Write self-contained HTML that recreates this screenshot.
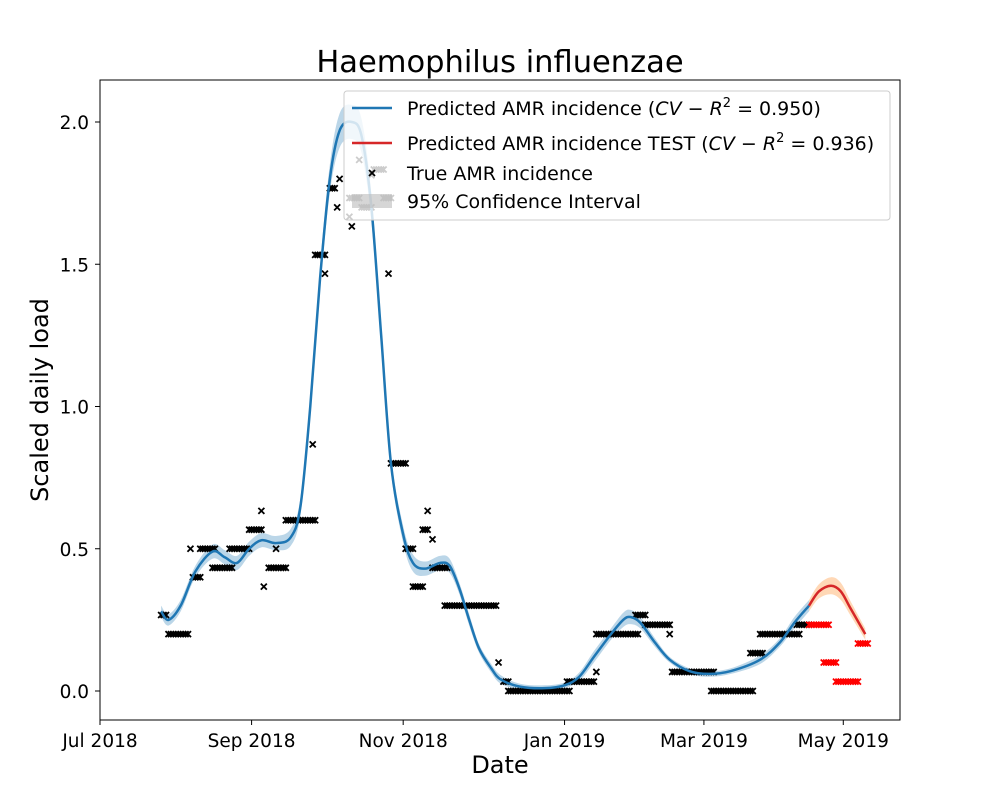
<!DOCTYPE html>
<html><head><meta charset="utf-8"><style>
body{margin:0;background:#fff}
svg text{font-family:"DejaVu Sans","Liberation Sans",sans-serif}
</style></head><body>
<svg id="chart" width="1000" height="800" xmlns="http://www.w3.org/2000/svg">
<rect width="1000" height="800" fill="#fff"/>
<text x="500" y="72" font-size="30.5" text-anchor="middle">Haemophilus influenzae</text>
<g id="plot"></g>
<rect x="100" y="80" width="800" height="640" fill="none" stroke="#000" stroke-width="1"/>
<g id="ticks"></g>
<text x="500" y="773" font-size="24" text-anchor="middle">Date</text>
<text transform="translate(48,400) rotate(-90)" font-size="24" text-anchor="middle">Scaled daily load</text>
<g>
<rect x="344" y="91" width="546" height="129" rx="3" fill="#fff" fill-opacity="0.8" stroke="#ccc"/>
<line x1="352" y1="108" x2="392" y2="108" stroke="#1f77b4" stroke-width="2.5"/>
<text x="407" y="115" font-size="19">Predicted AMR incidence (<tspan font-style="italic">CV</tspan> − <tspan font-style="italic">R</tspan><tspan font-size="13" dy="-8">2</tspan><tspan dy="8"> = 0.950)</tspan></text>
<line x1="352" y1="143" x2="392" y2="143" stroke="#d62728" stroke-width="2.5"/>
<text x="407" y="150" font-size="19">Predicted AMR incidence TEST (<tspan font-style="italic">CV</tspan> − <tspan font-style="italic">R</tspan><tspan font-size="13" dy="-8">2</tspan><tspan dy="8"> = 0.936)</tspan></text>
<path d="M369,170 l6,6 M375,170 l-6,6" stroke="#000" stroke-width="1.8"/>
<text x="407" y="180" font-size="19">True AMR incidence</text>
<rect x="352" y="194" width="40" height="14" fill="#bbb" fill-opacity="0.6"/>
<text x="407" y="208" font-size="19">95% Confidence Interval</text>
</g>
</svg>
<script>
const tickLabelsX=["Jul 2018","Sep 2018","Nov 2018","Jan 2019","Mar 2019","May 2019"];
const tickDaysX=[0,62,124,190,247,304];
const tickValuesY=[0,0.5,1.0,1.5,2.0];
const tickLabelsY=["0.0","0.5","1.0","1.5","2.0"];
// observed segments: start day, end day, value
const obsStart=[25,28,37,38,41,46,53,61,66,67,69,72,76,87,88,92,94,97,98,102,103,102,106,107,111,112,116,118,119,125,128,132,134,136,136,141,163,165,167,191,203,203,219,223,233,234,250,266,270,285];
const obsEnd=  [27,36,37,41,47,54,61,66,66,67,76,72,88,87,92,92,96,97,98,102,103,106,106,111,111,116,119,118,125,128,132,134,134,136,142,162,163,167,192,202,203,220,223,233,233,251,267,271,286,290];
const obsVal=  [0.267,0.2,0.5,0.4,0.5,0.433,0.5,0.567,0.633,0.367,0.433,0.5,0.6,0.867,1.533,1.467,1.767,1.7,1.8,1.667,1.633,1.733,1.867,1.7,1.813,1.833,1.733,1.467,0.8,0.5,0.367,0.567,0.633,0.533,0.433,0.3,0.1,0.033,0,0.033,0.067,0.2,0.267,0.233,0.2,0.067,0,0.133,0.2,0.233];
const testStart=[290,296,301,310];
const testEnd=[298,301,310,314];
const testVal=[0.233,0.1,0.033,0.167];
const predDays=[25,28,33,39,46,51,56,61,66,72,78,82,86,90,94,98,103,107,111,115,119,124,128,133,139,143,147,151,155,160,164,172,182,190,196,202,209,214,217,221,227,233,241,249,258,270,278,284,290];
const predVals=[0.28,0.25,0.30,0.42,0.49,0.47,0.45,0.50,0.53,0.52,0.54,0.65,1.0,1.45,1.80,1.97,2.0,1.95,1.7,1.25,0.8,0.55,0.45,0.43,0.45,0.44,0.36,0.25,0.15,0.08,0.04,0.015,0.01,0.02,0.05,0.12,0.20,0.25,0.26,0.24,0.17,0.11,0.07,0.06,0.07,0.11,0.17,0.24,0.30];
const ciHalf=[0.02,0.02,0.02,0.02,0.025,0.025,0.025,0.025,0.025,0.025,0.03,0.03,0.03,0.04,0.05,0.06,0.06,0.06,0.05,0.04,0.03,0.03,0.03,0.025,0.025,0.025,0.02,0.02,0.015,0.015,0.015,0.01,0.01,0.01,0.015,0.02,0.02,0.025,0.025,0.02,0.015,0.01,0.01,0.01,0.01,0.015,0.015,0.02,0.02];
const testDays=[290,294,299,303,307,313];
const testPred=[0.30,0.35,0.37,0.35,0.29,0.20];
const testCi=[0.02,0.025,0.03,0.03,0.025,0.02];

const NS="http://www.w3.org/2000/svg";
const X=d=>100+d*2.445;
const Y=v=>691-v*284.5;
const plot=document.getElementById('plot'), ticks=document.getElementById('ticks');
function mk(t,a,p){const e=document.createElementNS(NS,t);for(const k in a)e.setAttribute(k,a[k]);p.appendChild(e);return e;}
function smooth(xs,ys){let d=`M${X(xs[0])},${Y(ys[0])}`;for(let i=1;i<xs.length;i++){const x0=X(xs[i-1]),y0=Y(ys[i-1]),x1=X(xs[i]),y1=Y(ys[i]);const xp=i>1?X(xs[i-2]):x0,yp=i>1?Y(ys[i-2]):y0;const xn=i<xs.length-1?X(xs[i+1]):x1,yn=i<xs.length-1?Y(ys[i+1]):y1;d+=` C${x0+(x1-xp)/6},${y0+(y1-yp)/6} ${x1-(xn-x0)/6},${y1-(yn-y0)/6} ${x1},${y1}`;}return d;}
function band(xs,ys,h){const up=ys.map((v,i)=>v+h[i]),lo=ys.map((v,i)=>v-h[i]);const rx=xs.slice().reverse(),rl=lo.slice().reverse();return smooth(xs,up)+" L"+smooth(rx,rl).slice(1)+" Z";}
let e;
e=mk('path',{d:band(predDays,predVals,ciHalf),fill:'#1f77b4','fill-opacity':0.3},plot);


e=mk('path',{d:band(testDays,testPred,testCi),fill:'#ff7f0e','fill-opacity':0.3},plot);


function marks(st,en,va,col,name){for(let i=0;i<st.length;i++){for(let d=st[i];d<=en[i];d++){const x=X(d),y=Y(va[i]);const m=mk('path',{d:`M${x-3},${y-3} l6,6 M${x+3},${y-3} l-6,6`,stroke:col,'stroke-width':1.8},plot);

}}}
marks(obsStart,obsEnd,obsVal,'#000','true-point');
marks(testStart,testEnd,testVal,'#ff0000','test-point');
e=mk('path',{d:smooth(predDays,predVals),fill:'none',stroke:'#1f77b4','stroke-width':2.5},plot);


e=mk('path',{d:smooth(testDays,testPred),fill:'none',stroke:'#d62728','stroke-width':2.5},plot);


tickDaysX.forEach((d,i)=>{const x=X(d);mk('line',{x1:x,y1:720,x2:x,y2:725,stroke:'#000'},ticks);
const t=mk('text',{x:x,y:747,'font-size':18.5,'text-anchor':'middle'},ticks);t.textContent=tickLabelsX[i];

});
tickValuesY.forEach((v,i)=>{const y=Y(v);mk('line',{x1:95,y1:y,x2:100,y2:y,stroke:'#000'},ticks);
const t=mk('text',{x:89,y:y+7,'font-size':18.5,'text-anchor':'end'},ticks);t.textContent=tickLabelsY[i];

});
</script>
</body></html>
